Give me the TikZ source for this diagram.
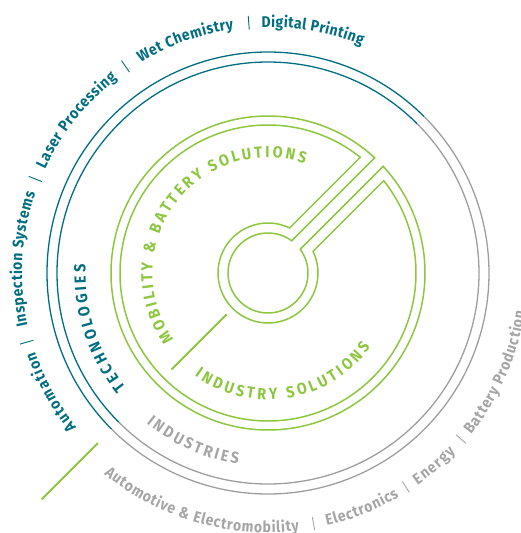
\documentclass[tikz,border=0pt]{standalone}
\usepackage{fontspec}
\setmainfont{Fira Sans}
\newfontfamily\narrowfam{Fira Sans}[FakeStretch=0.9]
\usetikzlibrary{decorations.text}
\definecolor{techteal}{RGB}{0,110,128}
\definecolor{solgreen}{RGB}{141,198,63}
\definecolor{indgray}{RGB}{158,158,158}
\definecolor{labgray}{RGB}{165,165,165}
\newcommand{\labfont}{\narrowfam\fontsize{15.5}{15.5}\selectfont\bfseries}
\newcommand{\capfont}{\narrowfam\fontsize{16}{16}\selectfont\bfseries}
\begin{document}
\begin{tikzpicture}[x=1pt, y=1pt,
	ring/.style={line width=1.3pt},
	solring/.style={solgreen, line width=1.5pt},
	spoke/.style={solgreen, line width=2pt},
	sep/.style={line width=0.9pt},
	techlabel/.style={decorate, decoration={text along path, text align=fit to path, text color=techteal, text={|\labfont|#1}}},
	indlabel/.style={decorate, decoration={text along path, text align=fit to path, text color=labgray, text={|\labfont|#1}}},
	capslabel/.style 2 args={decorate, decoration={text along path, text align=fit to path, text color=#1, text={|\capfont|#2}}}
	]
	\useasboundingbox (-268,-260) rectangle (253,273);
	
	\foreach \r in {211,221} {
		\draw[ring, techteal] (45:\r) arc[start angle=45, end angle=225, radius=\r];
		\draw[ring, indgray] (225:\r) arc[start angle=225, end angle=405, radius=\r];
	}
	
	\draw[solring] ({45+asin(6/40)}:40) arc[start angle={45+asin(6/40)}, end angle={405-asin(6/40)}, radius=40]
		-- ({45-asin(6/157)}:157) arc[start angle={45-asin(6/157)}, end angle={-315+asin(6/157)}, radius=157] -- cycle;
	\draw[solring] ({45+asin(16.5/50)}:50) arc[start angle={45+asin(16.5/50)}, end angle={405-asin(16.5/50)}, radius=50]
		-- ({45-asin(16.5/148)}:148) arc[start angle={45-asin(16.5/148)}, end angle={-315+asin(16.5/148)}, radius=148] -- cycle;
	\draw[spoke] (225:58.5) -- (225:136.5);
	\draw[spoke] (225:240.5) -- (225:320);
	
	\path[techlabel=Automation] (218.8:246) arc[start angle=218.8, end angle=198.6, radius=246];
	\path[techlabel={Inspection Systems}] (192.4:246) arc[start angle=192.4, end angle=161, radius=246];
	\path[techlabel={Laser Processing}] (155:246) arc[start angle=155, end angle=127.8, radius=246];
	\path[techlabel={Wet Chemistry}] (121.1:246) arc[start angle=121.1, end angle=98, radius=246];
	\path[techlabel={Digital Printing}] (91.5:246) arc[start angle=91.5, end angle=67.6, radius=246];
	\foreach \a in {196,158,124.6,94.4}
		\draw[sep, techteal] (\a:244) -- (\a:258);
	
	\path[indlabel={Automotive {\&} Electromobility}] (230.8:259.5) arc[start angle=230.8, end angle=276.9, radius=259.5];
	\path[indlabel=Electronics] (283.1:259.5) arc[start angle=283.1, end angle=300.4, radius=259.5];
	\path[indlabel=Energy] (305.2:259.5) arc[start angle=305.2, end angle=316.3, radius=259.5];
	\path[indlabel={Battery Production}] (321.5:259.5) arc[start angle=321.5, end angle=351.5, radius=259.5];
	\foreach \a in {280.3,302.8,319.3}
		\draw[sep, labgray] (\a:248) -- (\a:261);
	
	\path[capslabel={techteal}{TECHNOLOGIES}] (218.8:182.5) arc[start angle=218.8, end angle=177.4, radius=182.5];
	\path[capslabel={labgray}{INDUSTRIES}] (231.1:193.5) arc[start angle=231.1, end angle=261.1, radius=193.5];
	\path[capslabel={solgreen}{MOBILITY {\&} BATTERY SOLUTIONS}] (215.2:115.5) arc[start angle=215.2, end angle=71.4, radius=115.5];
	\path[capslabel={solgreen}{INDUSTRY SOLUTIONS}] (234.5:126.5) arc[start angle=234.5, end angle=324, radius=126.5];
\end{tikzpicture}
\end{document}
